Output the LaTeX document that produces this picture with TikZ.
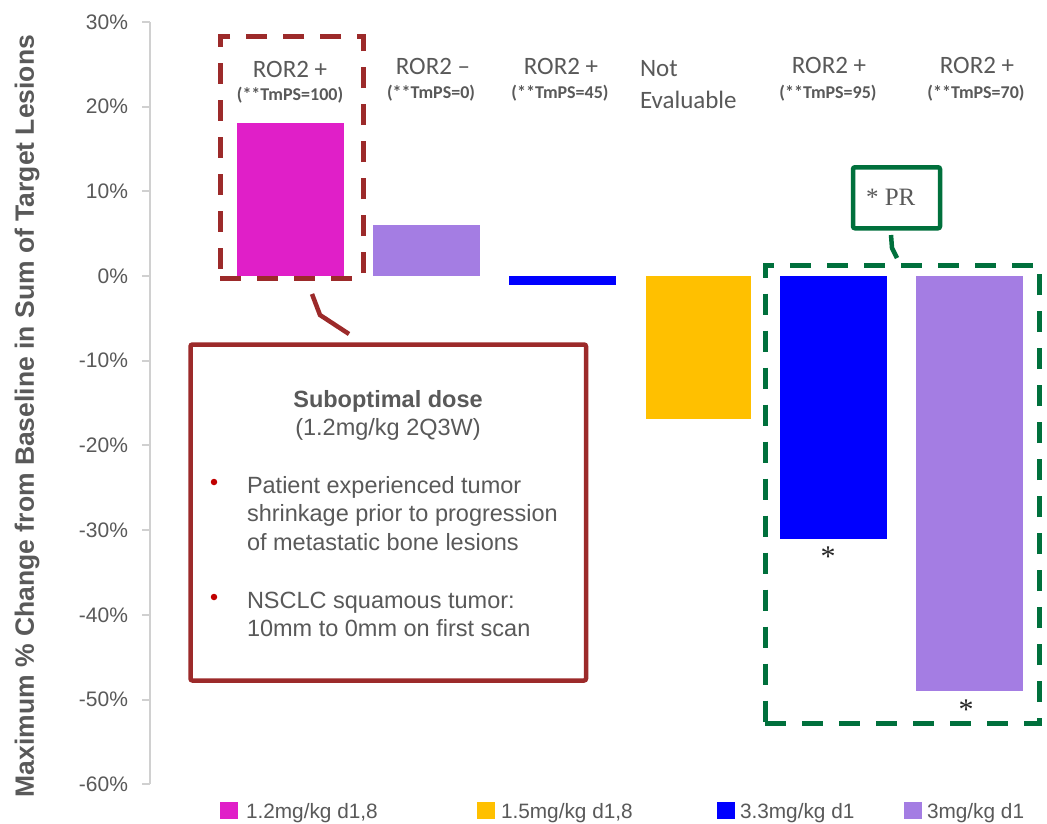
\documentclass[tikz,border=0pt]{standalone}
\usepackage{fontspec}
\setmainfont{Liberation Sans}
\newfontfamily\calib{Carlito}
\newfontfamily\timesf{Liberation Serif}
\definecolor{txtgray}{HTML}{595959}
\definecolor{axisgray}{HTML}{D0D0D0}
\definecolor{magbar}{HTML}{E01FC8}
\definecolor{lavbar}{HTML}{A47DE3}
\definecolor{bluebar}{HTML}{0000FF}
\definecolor{goldbar}{HTML}{FFC000}
\definecolor{darkred}{HTML}{9C2A2A}
\definecolor{bulletred}{HTML}{C00000}
\definecolor{prgreen}{HTML}{00703C}
\tikzset{
  every node/.style={inner sep=0pt, outer sep=0pt},
  hdr/.style={text=txtgray, font=\calib\fontsize{25}{30}\selectfont, anchor=base},
  subhdr/.style={text=txtgray, font=\calib\bfseries\fontsize{18}{22}\selectfont, anchor=base},
  ticklbl/.style={text=txtgray, font=\fontsize{21}{25}\selectfont, anchor=east},
  boxtxt/.style={text=txtgray, font=\fontsize{23.5}{28}\selectfont, anchor=base west},
  legtxt/.style={text=txtgray, font=\fontsize{20.8}{24}\selectfont, anchor=base west},
  star/.style={text=black!85, font=\timesf\fontsize{30}{32}\selectfont, anchor=base},
  dashframe/.style={draw=#1, line width=5pt, dash pattern=on 21pt off 16pt, fill=none},
  solidframe/.style={draw=#1, line width=4.5pt, rounded corners=2pt, fill=none},
  bulletdot/.style={circle, fill=bulletred, minimum size=6.5pt},
}
\begin{document}
\begin{tikzpicture}[x=1pt,y=-1pt]
\useasboundingbox[fill=white] (0,0) rectangle (1047,823);

% y axis with ticks and percentage labels
\draw[axisgray, line width=2pt] (150,22) -- (150,784.2);
\foreach \v in {30,20,10,0,-10,-20,-30,-40,-50,-60}{
  \pgfmathsetmacro{\yy}{276-8.47*\v}
  \draw[axisgray, line width=2pt] (142,\yy) -- (150,\yy);
  \node[ticklbl] (tk\v) at (128,\yy) {\v\%};
}
\node[rotate=90, anchor=base, text=txtgray, font=\bfseries\fontsize{26.5}{30}\selectfont] (ytitle) at (34,416)
  {Maximum \% Change from Baseline in Sum of Target Lesions};

% bars
\fill[magbar]  (237,123) rectangle (344,276);
\fill[lavbar]  (373,225) rectangle (480,276);
\fill[bluebar] (509,276) rectangle (616,285);
\fill[goldbar] (646,276) rectangle (751,419);
\fill[bluebar] (780,276) rectangle (887,539);
\fill[lavbar]  (916,276) rectangle (1023,691);

% column headers
\node[hdr] (h1) at (290,77) {ROR2 +};
\node[subhdr] (s1) at (290,100) {(**TmPS=100)};
\node[hdr] (h2) at (433,74) {ROR2 –};
\node[subhdr] (s2) at (431,98) {(**TmPS=0)};
\node[hdr] (h3) at (561,74) {ROR2 +};
\node[subhdr] (s3) at (560,98) {(**TmPS=45)};
\node[hdr, anchor=base west] (h4a) at (640,76) {Not};
\node[hdr, anchor=base west] (h4b) at (640,108) {Evaluable};
\node[hdr] (h5) at (829,73) {ROR2 +};
\node[subhdr] (s5) at (828,98) {(**TmPS=95)};
\node[hdr] (h6) at (977,73) {ROR2 +};
\node[subhdr] (s6) at (976,98) {(**TmPS=70)};

% response markers under bars
\node[star] (st5) at (828,566) {*};
\node[star] (st6) at (966,719) {*};

% highlighted first patient and its note
\node[dashframe=darkred, minimum width=143pt, minimum height=242pt] (redframe) at (291.5,157) {};
\node[solidframe=darkred, minimum width=395.5pt, minimum height=336pt] (callout) at (388.25,512.5) {};
\coordinate (redtail) at (312,294);
\coordinate (redbend) at (320,315);
\coordinate (redtip) at (349,334);
\draw[darkred, line width=4.5pt] (redtail) -- (redbend) -- (redtip);

\node[anchor=base, text=txtgray, font=\bfseries\fontsize{23.5}{28}\selectfont] (ct1) at (388,407) {Suboptimal dose};
\node[anchor=base, text=txtgray, font=\fontsize{23.5}{28}\selectfont] (ct2) at (388,435) {(1.2mg/kg 2Q3W)};
\node[bulletdot] (bd1) at (214,482) {};
\node[boxtxt] (b1a) at (247,493) {Patient experienced tumor};
\node[boxtxt] (b1b) at (247,521.5) {shrinkage prior to progression};
\node[boxtxt] (b1c) at (247,550) {of metastatic bone lesions};
\node[bulletdot] (bd2) at (214,597) {};
\node[boxtxt] (b2a) at (247,608) {NSCLC squamous tumor:};
\node[boxtxt] (b2b) at (247,636.5) {10mm to 0mm on first scan};

% partial responders
\node[dashframe=prgreen, minimum width=274.5pt, minimum height=458.5pt] (greenframe) at (902.25,494.25) {};
\node[solidframe=prgreen, minimum width=87pt, minimum height=61pt] (prbox) at (896.5,197.75) {};
\node[anchor=base west, text=txtgray, font=\timesf\fontsize{25}{28}\selectfont] (prtxt) at (866,205) {* PR};
\coordinate (grtail) at (891,235);
\coordinate (grbend) at (892,248);
\coordinate (grtip) at (897,258);
\draw[prgreen, line width=4.5pt] (grtail) -- (grbend) -- (grtip);

% legend
\fill[magbar]  (220,802) rectangle (238,819);
\node[legtxt] (l1) at (246,818) {1.2mg/kg d1,8};
\fill[goldbar] (477,802) rectangle (495,819);
\node[legtxt] (l2) at (501,818) {1.5mg/kg d1,8};
\fill[bluebar] (717,802) rectangle (735,819);
\node[legtxt] (l3) at (740,818) {3.3mg/kg d1};
\fill[lavbar]  (904,802) rectangle (922,819);
\node[legtxt] (l4) at (927,818) {3mg/kg d1};
\end{tikzpicture}
\end{document}
